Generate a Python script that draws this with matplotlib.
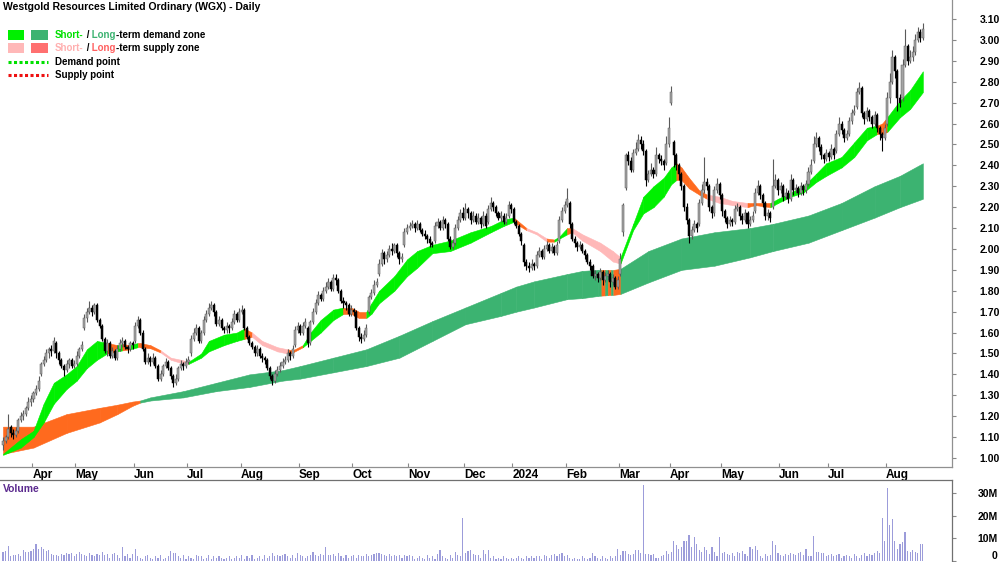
import numpy as np
import pandas as pd
import matplotlib
matplotlib.use("Agg")
import matplotlib.pyplot as plt
from matplotlib.patches import Rectangle

plt.rcParams['font.family'] = ['Liberation Sans', 'DejaVu Sans']

title = "Westgold Resources Limited Ordinary (WGX) - Daily"

# ASX trading days shown on the chart
first_day = "2023-03-16"
last_day = "2024-08-21"
holidays = ["2023-04-07", "2023-04-10", "2023-04-25", "2023-06-12", "2023-12-25",
            "2023-12-26", "2024-01-01", "2024-01-26", "2024-03-29", "2024-04-01",
            "2024-04-25", "2024-06-10"]

opens = [
    1.06, 1.08, 1.10, 1.15, 1.12, 1.11, 1.13, 1.18, 1.20, 1.21,
    1.24, 1.27, 1.28, 1.31, 1.33, 1.40, 1.45, 1.47, 1.50, 1.52,
    1.51, 1.55, 1.50, 1.47, 1.44, 1.42, 1.45, 1.47, 1.44, 1.45,
    1.49, 1.52, 1.62, 1.67, 1.70, 1.72, 1.70, 1.73, 1.66, 1.63,
    1.57, 1.51, 1.55, 1.49, 1.51, 1.48, 1.52, 1.55, 1.56, 1.53,
    1.52, 1.55, 1.56, 1.63, 1.66, 1.60, 1.52, 1.46, 1.48, 1.46,
    1.48, 1.44, 1.38, 1.40, 1.44, 1.46, 1.43, 1.39, 1.36, 1.38,
    1.43, 1.45, 1.44, 1.46, 1.50, 1.57, 1.60, 1.62, 1.56, 1.60,
    1.66, 1.69, 1.72, 1.73, 1.70, 1.64, 1.66, 1.62, 1.61, 1.63,
    1.62, 1.65, 1.69, 1.66, 1.70, 1.71, 1.62, 1.58, 1.55, 1.53,
    1.50, 1.52, 1.49, 1.48, 1.47, 1.43, 1.39, 1.37, 1.40, 1.42,
    1.44, 1.46, 1.47, 1.50, 1.49, 1.54, 1.61, 1.63, 1.60, 1.63,
    1.62, 1.55, 1.65, 1.70, 1.74, 1.78, 1.76, 1.80, 1.82, 1.84,
    1.81, 1.86, 1.85, 1.80, 1.75, 1.74, 1.73, 1.69, 1.71, 1.70,
    1.62, 1.58, 1.57, 1.59, 1.70, 1.77, 1.79, 1.83, 1.88, 1.93,
    1.98, 1.95, 1.97, 2.00, 1.99, 2.02, 1.98, 1.95, 2.02, 2.08,
    2.10, 2.11, 2.12, 2.10, 2.12, 2.09, 2.07, 2.06, 2.05, 2.03,
    2.04, 2.11, 2.13, 2.10, 2.14, 2.12, 2.05, 2.01, 2.03, 2.10,
    2.14, 2.17, 2.15, 2.19, 2.17, 2.14, 2.16, 2.13, 2.15, 2.12,
    2.16, 2.13, 2.19, 2.22, 2.20, 2.17, 2.15, 2.16, 2.13, 2.16,
    2.21, 2.19, 2.13, 2.11, 2.07, 2.02, 1.94, 1.92, 1.91, 1.93,
    1.92, 1.97, 1.99, 1.96, 2.00, 2.02, 1.99, 2.01, 1.98, 2.04,
    2.14, 2.18, 2.21, 2.22, 2.12, 2.05, 2.03, 2.01, 2.02, 1.99,
    1.97, 1.94, 1.92, 1.87, 1.88, 1.86, 1.89, 1.85, 1.87, 1.88,
    1.84, 1.86, 1.82, 1.88, 2.08, 2.29, 2.45, 2.42, 2.38, 2.46,
    2.48, 2.52, 2.50, 2.47, 2.33, 2.36, 2.38, 2.36, 2.45, 2.43,
    2.42, 2.41, 2.50, 2.70, 2.51, 2.45, 2.40, 2.36, 2.30, 2.20,
    2.14, 2.06, 2.09, 2.12, 2.12, 2.22, 2.28, 2.32, 2.30, 2.20,
    2.17, 2.28, 2.31, 2.26, 2.18, 2.15, 2.12, 2.14, 2.13, 2.19,
    2.20, 2.16, 2.14, 2.17, 2.12, 2.14, 2.18, 2.27, 2.30, 2.26,
    2.22, 2.16, 2.17, 2.20, 2.30, 2.33, 2.28, 2.30, 2.25, 2.27,
    2.24, 2.33, 2.28, 2.29, 2.27, 2.30, 2.28, 2.31, 2.37, 2.42,
    2.50, 2.53, 2.49, 2.45, 2.43, 2.46, 2.44, 2.48, 2.47, 2.55,
    2.60, 2.57, 2.53, 2.55, 2.61, 2.65, 2.68, 2.75, 2.77, 2.65,
    2.62, 2.66, 2.63, 2.60, 2.64, 2.58, 2.55, 2.53, 2.60, 2.72,
    2.80, 2.92, 2.85, 2.72, 2.72, 2.88, 2.97, 2.90, 2.92, 2.94,
    3.00, 3.04, 3.01]

highs = [
    1.10, 1.11, 1.21, 1.16, 1.14, 1.15, 1.19, 1.22, 1.23, 1.25,
    1.29, 1.30, 1.32, 1.35, 1.39, 1.46, 1.49, 1.52, 1.53, 1.54,
    1.58, 1.56, 1.51, 1.48, 1.45, 1.47, 1.48, 1.48, 1.47, 1.51,
    1.53, 1.56, 1.69, 1.72, 1.75, 1.73, 1.74, 1.74, 1.67, 1.64,
    1.58, 1.57, 1.56, 1.53, 1.52, 1.54, 1.57, 1.58, 1.57, 1.54,
    1.56, 1.56, 1.65, 1.68, 1.67, 1.61, 1.53, 1.50, 1.49, 1.50,
    1.49, 1.45, 1.42, 1.45, 1.48, 1.47, 1.44, 1.40, 1.40, 1.44,
    1.47, 1.46, 1.48, 1.49, 1.59, 1.62, 1.64, 1.63, 1.61, 1.68,
    1.71, 1.74, 1.75, 1.74, 1.71, 1.68, 1.67, 1.63, 1.65, 1.64,
    1.67, 1.71, 1.70, 1.72, 1.73, 1.72, 1.63, 1.59, 1.56, 1.54,
    1.54, 1.53, 1.50, 1.49, 1.48, 1.44, 1.40, 1.42, 1.44, 1.46,
    1.48, 1.49, 1.52, 1.51, 1.54, 1.63, 1.65, 1.64, 1.65, 1.67,
    1.63, 1.66, 1.72, 1.76, 1.80, 1.79, 1.82, 1.84, 1.86, 1.85,
    1.88, 1.88, 1.86, 1.81, 1.77, 1.75, 1.74, 1.73, 1.72, 1.71,
    1.63, 1.60, 1.61, 1.64, 1.78, 1.81, 1.85, 1.86, 1.95, 2.00,
    1.99, 1.99, 2.02, 2.03, 2.03, 2.03, 1.99, 1.98, 2.10, 2.12,
    2.13, 2.14, 2.13, 2.14, 2.13, 2.10, 2.09, 2.07, 2.06, 2.04,
    2.13, 2.15, 2.14, 2.16, 2.15, 2.13, 2.06, 2.05, 2.12, 2.16,
    2.19, 2.20, 2.22, 2.20, 2.18, 2.18, 2.17, 2.17, 2.16, 2.18,
    2.17, 2.21, 2.25, 2.23, 2.21, 2.18, 2.18, 2.17, 2.17, 2.23,
    2.22, 2.20, 2.14, 2.12, 2.08, 2.03, 1.95, 1.94, 1.95, 1.94,
    1.99, 2.01, 2.00, 2.02, 2.04, 2.03, 2.03, 2.02, 2.04, 2.16,
    2.20, 2.23, 2.29, 2.23, 2.13, 2.06, 2.04, 2.04, 2.03, 2.00,
    1.98, 1.95, 1.93, 1.90, 1.89, 1.91, 1.90, 1.89, 1.90, 1.89,
    1.88, 1.87, 1.87, 1.98, 2.22, 2.46, 2.47, 2.44, 2.48, 2.51,
    2.55, 2.54, 2.52, 2.48, 2.38, 2.41, 2.39, 2.49, 2.46, 2.45,
    2.43, 2.54, 2.63, 2.78, 2.52, 2.46, 2.41, 2.37, 2.31, 2.22,
    2.15, 2.11, 2.14, 2.13, 2.24, 2.31, 2.44, 2.34, 2.31, 2.21,
    2.30, 2.34, 2.32, 2.27, 2.19, 2.16, 2.16, 2.15, 2.21, 2.22,
    2.21, 2.17, 2.19, 2.18, 2.16, 2.18, 2.29, 2.33, 2.31, 2.27,
    2.23, 2.19, 2.18, 2.43, 2.36, 2.34, 2.32, 2.31, 2.29, 2.28,
    2.36, 2.34, 2.31, 2.30, 2.32, 2.31, 2.33, 2.39, 2.43, 2.54,
    2.56, 2.54, 2.50, 2.46, 2.48, 2.47, 2.50, 2.49, 2.57, 2.63,
    2.61, 2.58, 2.57, 2.63, 2.67, 2.69, 2.77, 2.80, 2.78, 2.66,
    2.68, 2.67, 2.64, 2.66, 2.65, 2.59, 2.56, 2.60, 2.75, 2.84,
    2.95, 2.93, 2.86, 2.74, 2.91, 3.05, 2.98, 2.95, 2.97, 3.03,
    3.06, 3.05, 3.08]

lows = [
    1.04, 1.07, 1.09, 1.10, 1.09, 1.10, 1.12, 1.17, 1.18, 1.20,
    1.23, 1.25, 1.27, 1.30, 1.32, 1.39, 1.44, 1.46, 1.48, 1.49,
    1.50, 1.48, 1.45, 1.43, 1.39, 1.41, 1.43, 1.43, 1.43, 1.44,
    1.48, 1.51, 1.61, 1.65, 1.69, 1.68, 1.69, 1.65, 1.62, 1.56,
    1.50, 1.49, 1.48, 1.48, 1.47, 1.47, 1.51, 1.53, 1.52, 1.50,
    1.51, 1.52, 1.55, 1.62, 1.59, 1.51, 1.45, 1.45, 1.44, 1.45,
    1.43, 1.37, 1.37, 1.39, 1.43, 1.42, 1.38, 1.34, 1.35, 1.37,
    1.42, 1.42, 1.43, 1.45, 1.49, 1.56, 1.59, 1.55, 1.55, 1.59,
    1.65, 1.68, 1.71, 1.68, 1.63, 1.63, 1.61, 1.60, 1.60, 1.60,
    1.61, 1.64, 1.65, 1.65, 1.69, 1.61, 1.57, 1.54, 1.52, 1.49,
    1.49, 1.48, 1.46, 1.45, 1.42, 1.38, 1.35, 1.36, 1.39, 1.41,
    1.43, 1.45, 1.46, 1.47, 1.48, 1.53, 1.60, 1.59, 1.59, 1.62,
    1.53, 1.54, 1.64, 1.69, 1.73, 1.75, 1.75, 1.79, 1.81, 1.80,
    1.80, 1.83, 1.79, 1.74, 1.72, 1.71, 1.68, 1.68, 1.68, 1.61,
    1.56, 1.55, 1.56, 1.58, 1.69, 1.76, 1.78, 1.82, 1.87, 1.92,
    1.93, 1.94, 1.96, 1.97, 1.98, 1.96, 1.93, 1.94, 2.01, 2.07,
    2.09, 2.10, 2.08, 2.09, 2.08, 2.06, 2.05, 2.03, 2.01, 2.01,
    2.03, 2.10, 2.09, 2.09, 2.10, 2.04, 2.00, 2.00, 2.02, 2.09,
    2.13, 2.14, 2.14, 2.15, 2.12, 2.13, 2.12, 2.12, 2.10, 2.11,
    2.10, 2.12, 2.18, 2.18, 2.16, 2.14, 2.13, 2.12, 2.12, 2.15,
    2.17, 2.12, 2.10, 2.06, 2.02, 1.92, 1.90, 1.89, 1.90, 1.90,
    1.91, 1.96, 1.95, 1.95, 1.99, 1.98, 1.98, 1.97, 1.97, 2.03,
    2.13, 2.17, 2.20, 2.10, 2.04, 2.01, 1.99, 2.00, 1.98, 1.95,
    1.93, 1.90, 1.86, 1.85, 1.84, 1.85, 1.83, 1.84, 1.85, 1.82,
    1.83, 1.81, 1.81, 1.87, 2.06, 2.28, 2.40, 2.37, 2.37, 2.45,
    2.47, 2.48, 2.45, 2.30, 2.32, 2.35, 2.34, 2.35, 2.41, 2.40,
    2.38, 2.40, 2.49, 2.69, 2.39, 2.38, 2.33, 2.28, 2.18, 2.12,
    2.03, 2.05, 2.08, 2.08, 2.11, 2.21, 2.27, 2.28, 2.18, 2.15,
    2.16, 2.27, 2.24, 2.16, 2.13, 2.10, 2.11, 2.11, 2.12, 2.18,
    2.14, 2.12, 2.13, 2.10, 2.11, 2.13, 2.17, 2.26, 2.24, 2.20,
    2.14, 2.14, 2.13, 2.19, 2.29, 2.26, 2.27, 2.23, 2.24, 2.22,
    2.23, 2.26, 2.27, 2.25, 2.26, 2.26, 2.27, 2.30, 2.36, 2.41,
    2.49, 2.47, 2.43, 2.41, 2.42, 2.42, 2.43, 2.43, 2.46, 2.54,
    2.55, 2.51, 2.52, 2.54, 2.60, 2.64, 2.67, 2.74, 2.63, 2.60,
    2.61, 2.61, 2.58, 2.59, 2.56, 2.52, 2.47, 2.52, 2.59, 2.70,
    2.79, 2.82, 2.66, 2.68, 2.71, 2.87, 2.88, 2.89, 2.90, 2.93,
    2.99, 2.99, 3.00]

closes = [
    1.08, 1.10, 1.14, 1.12, 1.11, 1.13, 1.18, 1.20, 1.21, 1.24,
    1.27, 1.28, 1.31, 1.33, 1.37, 1.45, 1.47, 1.50, 1.52, 1.51,
    1.56, 1.50, 1.47, 1.44, 1.42, 1.45, 1.47, 1.44, 1.45, 1.49,
    1.52, 1.54, 1.67, 1.70, 1.72, 1.70, 1.73, 1.66, 1.63, 1.57,
    1.51, 1.55, 1.49, 1.51, 1.48, 1.52, 1.55, 1.56, 1.53, 1.52,
    1.55, 1.54, 1.63, 1.66, 1.60, 1.52, 1.46, 1.48, 1.46, 1.48,
    1.44, 1.38, 1.40, 1.44, 1.46, 1.43, 1.39, 1.36, 1.38, 1.43,
    1.45, 1.44, 1.46, 1.47, 1.57, 1.60, 1.62, 1.56, 1.60, 1.66,
    1.69, 1.72, 1.73, 1.70, 1.64, 1.66, 1.62, 1.61, 1.63, 1.62,
    1.65, 1.69, 1.66, 1.70, 1.71, 1.62, 1.58, 1.55, 1.53, 1.50,
    1.52, 1.49, 1.48, 1.47, 1.43, 1.39, 1.37, 1.40, 1.42, 1.44,
    1.46, 1.47, 1.50, 1.49, 1.52, 1.61, 1.63, 1.60, 1.63, 1.65,
    1.55, 1.65, 1.70, 1.74, 1.78, 1.76, 1.80, 1.82, 1.84, 1.81,
    1.86, 1.85, 1.80, 1.75, 1.74, 1.73, 1.69, 1.71, 1.70, 1.62,
    1.58, 1.57, 1.59, 1.62, 1.77, 1.79, 1.83, 1.84, 1.93, 1.98,
    1.95, 1.97, 2.00, 1.99, 2.02, 1.98, 1.95, 1.96, 2.08, 2.10,
    2.11, 2.12, 2.10, 2.12, 2.09, 2.07, 2.06, 2.05, 2.03, 2.02,
    2.11, 2.13, 2.10, 2.14, 2.12, 2.05, 2.01, 2.03, 2.10, 2.14,
    2.17, 2.15, 2.19, 2.17, 2.14, 2.16, 2.13, 2.15, 2.12, 2.16,
    2.11, 2.19, 2.22, 2.20, 2.17, 2.15, 2.16, 2.13, 2.15, 2.21,
    2.19, 2.13, 2.11, 2.07, 2.04, 1.94, 1.92, 1.91, 1.93, 1.92,
    1.97, 1.99, 1.96, 2.00, 2.02, 1.99, 2.01, 1.98, 2.02, 2.14,
    2.18, 2.21, 2.24, 2.12, 2.05, 2.03, 2.01, 2.02, 1.99, 1.97,
    1.94, 1.92, 1.87, 1.88, 1.86, 1.89, 1.85, 1.87, 1.88, 1.84,
    1.86, 1.82, 1.85, 1.95, 2.21, 2.45, 2.42, 2.38, 2.46, 2.48,
    2.52, 2.50, 2.47, 2.33, 2.36, 2.38, 2.36, 2.45, 2.43, 2.42,
    2.40, 2.50, 2.58, 2.75, 2.45, 2.40, 2.36, 2.30, 2.20, 2.14,
    2.06, 2.09, 2.12, 2.10, 2.22, 2.28, 2.32, 2.30, 2.20, 2.17,
    2.28, 2.31, 2.26, 2.18, 2.15, 2.12, 2.14, 2.13, 2.19, 2.20,
    2.16, 2.14, 2.17, 2.12, 2.14, 2.16, 2.27, 2.30, 2.26, 2.22,
    2.16, 2.17, 2.15, 2.30, 2.33, 2.28, 2.30, 2.25, 2.27, 2.24,
    2.33, 2.28, 2.29, 2.27, 2.30, 2.28, 2.31, 2.37, 2.40, 2.50,
    2.53, 2.49, 2.45, 2.43, 2.46, 2.44, 2.48, 2.45, 2.55, 2.60,
    2.57, 2.53, 2.55, 2.61, 2.65, 2.66, 2.75, 2.77, 2.65, 2.62,
    2.66, 2.63, 2.60, 2.64, 2.58, 2.55, 2.53, 2.58, 2.72, 2.80,
    2.92, 2.85, 2.72, 2.70, 2.88, 2.97, 2.90, 2.92, 2.94, 3.00,
    3.04, 3.01, 3.05]

# volume in millions of shares
volumes = [
    4.0, 4.5, 6.5, 2.0, 2.5, 2.5, 3.0, 2.0, 5.0, 4.0, 4.0, 4.5, 5.5, 7.5, 5.5, 6.0, 5.5, 4.5, 5.0, 3.0,
    2.5, 2.5, 2.0, 3.0, 2.5, 3.5, 3.0, 3.5, 2.0, 3.0, 4.0, 3.0, 2.5, 2.0, 3.5, 2.5, 2.0, 3.0, 2.5, 4.0,
    2.5, 3.0, 1.5, 3.0, 3.5, 2.5, 1.5, 6.0, 2.0, 3.0, 1.5, 3.0, 5.5, 2.0, 1.5, 1.0, 2.0, 2.5, 1.5, 1.0,
    2.0, 1.5, 2.5, 1.0, 1.5, 2.0, 4.5, 3.5, 3.5, 2.0, 1.5, 2.5, 1.0, 2.0, 1.5, 1.0, 2.5, 2.0, 2.0, 1.0,
    1.5, 2.5, 1.0, 2.0, 1.5, 2.0, 1.5, 1.0, 1.5, 2.0, 1.0, 1.5, 2.0, 1.5, 2.5, 1.0, 2.0, 1.5, 2.5, 1.0,
    1.5, 2.0, 1.0, 2.5, 1.5, 2.0, 3.5, 2.0, 2.5, 2.0, 2.5, 3.0, 2.0, 1.5, 2.5, 1.5, 3.5, 2.5, 2.0, 1.5,
    2.0, 2.5, 4.0, 2.5, 2.0, 3.0, 2.5, 6.0, 2.5, 2.5, 3.0, 2.0, 3.5, 2.0, 1.5, 2.5, 1.5, 2.0, 2.5, 1.5,
    2.5, 2.0, 2.0, 3.0, 2.0, 2.5, 3.0, 3.5, 3.5, 3.0, 2.5, 2.0, 3.0, 2.0, 2.5, 2.0, 2.5, 1.5, 2.5, 2.0,
    2.5, 2.0, 1.0, 1.5, 2.0, 1.5, 1.0, 2.5, 1.5, 2.0, 1.0, 3.0, 5.0, 2.0, 1.5, 1.0, 2.5, 1.5, 4.0, 2.5,
    2.0, 19.0, 3.5, 4.5, 5.0, 3.0, 2.5, 2.5, 1.5, 5.0, 3.0, 5.0, 1.5, 2.0, 1.0, 1.5, 1.0, 2.0, 1.5, 1.0,
    1.5, 1.0, 1.5, 2.0, 1.5, 1.0, 2.0, 1.5, 2.0, 1.5, 2.0, 2.0, 1.0, 2.5, 2.0, 1.5, 2.5, 3.0, 2.0, 3.0,
    3.5, 2.0, 2.5, 1.5, 1.0, 1.5, 1.0, 1.0, 2.0, 1.5, 1.0, 1.5, 3.5, 2.0, 1.5, 1.0, 2.0, 1.5, 1.0, 2.0,
    1.5, 2.0, 5.5, 2.5, 4.5, 4.5, 3.0, 2.5, 3.0, 5.0, 5.0, 3.5, 33.5, 3.0, 3.0, 2.5, 3.0, 1.5, 1.5, 2.0,
    2.5, 4.5, 3.0, 4.0, 9.0, 7.0, 5.5, 6.0, 9.0, 9.0, 11.5, 6.0, 10.5, 7.5, 5.0, 4.0, 6.0, 5.0, 3.0, 6.0,
    4.0, 2.0, 10.5, 3.5, 4.0, 3.0, 2.5, 3.5, 2.0, 4.0, 3.5, 4.5, 3.0, 2.0, 6.0, 5.5, 6.5, 5.0, 2.0, 1.5,
    3.0, 2.0, 2.5, 9.0, 7.0, 3.5, 2.5, 2.0, 3.0, 2.5, 3.5, 3.0, 2.5, 3.5, 4.0, 2.5, 5.5, 2.0, 2.0, 11.0,
    4.0, 4.0, 3.5, 3.5, 2.0, 2.5, 3.0, 2.0, 2.5, 3.0, 1.5, 2.0, 2.5, 2.0, 1.5, 3.0, 2.0, 1.5, 2.5, 3.5,
    2.0, 3.0, 2.5, 3.5, 4.5, 3.5, 19.0, 9.0, 32.0, 16.0, 18.5, 9.0, 5.5, 7.5, 8.5, 13.0, 4.5, 4.0, 5.0,
    4.0, 3.5, 7.5, 7.5]

# long-term zone edges, read at these bar numbers
# (state of each stretch: o = supply, d = demand)
lt_bar = [0, 12, 25, 38, 45, 51, 54, 58, 71, 84, 97, 110, 117, 130, 143, 156, 169, 182, 196,
          202, 209, 222, 228, 234, 235.5, 237, 238, 239.2, 240.2, 243, 254, 267, 280, 294,
          303, 317, 330, 343, 353, 362]
lt_top = [1.15, 1.15, 1.21, 1.24, 1.255, 1.27, 1.275, 1.29, 1.32, 1.36, 1.40, 1.42, 1.44,
          1.48, 1.52, 1.585, 1.655, 1.72, 1.79, 1.82, 1.845, 1.88, 1.895, 1.90, 1.90, 1.90,
          1.90, 1.90, 1.90, 1.905, 1.99, 2.05, 2.08, 2.10, 2.12, 2.16, 2.22, 2.30, 2.35, 2.41]
lt_bot = [1.02, 1.05, 1.12, 1.17, 1.21, 1.25, 1.265, 1.275, 1.29, 1.32, 1.34, 1.37, 1.38,
          1.41, 1.44, 1.48, 1.56, 1.64, 1.68, 1.70, 1.72, 1.76, 1.765, 1.775, 1.777, 1.778,
          1.779, 1.78, 1.78, 1.785, 1.84, 1.90, 1.92, 1.96, 1.99, 2.03, 2.09, 2.15, 2.20, 2.24]
lt_state = ["o", "o", "o", "o", "o", "o",
            "d", "d", "d", "d", "d", "d", "d", "d", "d", "d", "d", "d", "d", "d", "d", "d", "d", "d",
            "o", "d", "o", "d", "o",
            "d", "d", "d", "d", "d", "d", "d", "d", "d", "d", "d"]

# short-term zone edges (g = demand, p = supply, o = turning)
st_bar = [0, 7, 12, 16, 20, 25, 29, 33, 37, 41, 45, 47, 50, 53, 54, 58, 62, 66, 70, 73, 78,
          81, 87, 92, 95, 98, 102, 108, 112, 114, 118, 121, 125, 130, 134, 137, 140, 143, 145,
          148, 154, 159, 163, 169, 176, 184, 192, 197, 201, 202, 206, 210, 214, 217, 219, 222,
          224, 228, 235, 240, 243, 248, 252, 256, 260, 263, 265, 267, 270, 274, 277, 282, 287,
          293, 296, 302, 305, 310, 315, 320, 324, 330, 335, 340, 344, 346, 348, 353, 357, 362]
st_top = [1.02, 1.09, 1.13, 1.26, 1.36, 1.40, 1.44, 1.52, 1.56, 1.55, 1.54, 1.545, 1.54, 1.55,
          1.55, 1.54, 1.515, 1.48, 1.47, 1.46, 1.50, 1.56, 1.59, 1.60, 1.62, 1.60, 1.56, 1.53,
          1.52, 1.515, 1.54, 1.60, 1.66, 1.71, 1.72, 1.72, 1.70, 1.70, 1.74, 1.80, 1.87, 1.95,
          1.99, 2.02, 2.04, 2.08, 2.11, 2.14, 2.15, 2.14, 2.10, 2.08, 2.05, 2.045, 2.06, 2.10,
          2.10, 2.07, 2.03, 1.99, 1.96, 2.12, 2.25, 2.30, 2.34, 2.39, 2.41, 2.39, 2.34, 2.28,
          2.26, 2.25, 2.23, 2.22, 2.22, 2.22, 2.24, 2.27, 2.30, 2.36, 2.41, 2.44, 2.51, 2.58,
          2.59, 2.60, 2.63, 2.71, 2.76, 2.85]
st_bot = [1.015, 1.05, 1.10, 1.17, 1.26, 1.33, 1.37, 1.43, 1.47, 1.50, 1.51, 1.515, 1.52,
          1.53, 1.53, 1.525, 1.505, 1.47, 1.455, 1.45, 1.48, 1.51, 1.54, 1.56, 1.57, 1.58,
          1.54, 1.51, 1.50, 1.505, 1.53, 1.56, 1.60, 1.66, 1.69, 1.69, 1.67, 1.67, 1.69, 1.74,
          1.80, 1.87, 1.91, 1.98, 1.99, 2.03, 2.08, 2.11, 2.13, 2.12, 2.09, 2.07, 2.035, 2.035,
          2.05, 2.07, 2.08, 2.04, 1.99, 1.94, 1.93, 2.09, 2.17, 2.20, 2.25, 2.31, 2.33, 2.33,
          2.29, 2.26, 2.24, 2.22, 2.21, 2.20, 2.21, 2.20, 2.22, 2.25, 2.27, 2.32, 2.35, 2.39,
          2.44, 2.52, 2.55, 2.55, 2.56, 2.63, 2.67, 2.75]
st_state = ["g", "g", "g", "g", "g", "g", "g", "g", "g",      # 0-37
            "o", "g", "o", "g", "o", "o", "o",                 # 41-58
            "p", "p", "p",                                     # 62-70
            "g", "g", "g", "g", "g",                           # 73-92
            "o", "p", "p", "p", "o", "o",                      # 95-114
            "g", "g", "g", "g",                                # 118-130
            "o", "o", "o",                                     # 134-140
            "g", "g", "g", "g", "g", "g", "g", "g", "g", "g", "g",  # 143-197
            "o", "o", "p", "p", "o", "g", "g", "o",            # 201-222
            "p", "p", "p", "p",                                # 224-240
            "g", "g", "g", "g", "g", "g",                      # 243-263
            "o", "o", "o", "o", "p", "p", "p", "o", "o",       # 265-296
            "g", "g", "g", "g", "g", "g", "g", "g", "g",       # 302-340
            "o", "o", "g", "g", "g", "g"]                      # 344-362

zone_colors = {"g": "#00F000", "d": "#3CB371", "p": "#FFB8B8", "o": "#FF6A1E"}


def main():
    n = len(closes)
    x = np.arange(n)
    o = np.array(opens)
    h = np.array(highs)
    l = np.array(lows)
    c = np.array(closes)

    dates = pd.bdate_range(first_day, last_day, freq="C", holidays=holidays)[:n]
    months = dates.to_period("M")
    starts = [i for i in range(1, len(dates)) if months[i] != months[i - 1]]
    labels = ["2024" if dates[i].month == 1 else dates[i].strftime("%b") for i in starts]

    fig = plt.figure(figsize=(10, 5.62), dpi=100)
    step = 2.541
    xlim = (-3 / step, (952 - 3) / step)

    ax = fig.add_axes([0, 1 - 467 / 562, 0.952, 467 / 562])
    axv = fig.add_axes([0, 0, 0.952, 82 / 562])

    # zones
    for bars, top, bot, state in [(lt_bar, lt_top, lt_bot, lt_state),
                                  (st_bar, st_top, st_bot, st_state)]:
        for k in range(len(bars) - 1):
            col = zone_colors[state[k]]
            ax.fill_between(bars[k:k + 2], bot[k:k + 2], top[k:k + 2],
                            color=col, lw=0.4, edgecolor=col, zorder=1)

    # candles
    up = c >= o
    ax.vlines(x[up], l[up], h[up], color="#5a5a5a", lw=0.8, zorder=3)
    ax.vlines(x[~up], l[~up], h[~up], color="black", lw=0.8, zorder=3)
    bottom = np.minimum(o, c)
    height = np.maximum(np.abs(c - o), 0.005)
    ax.bar(x[up], height[up], bottom=bottom[up], width=0.8, color="#A4A4A4",
           edgecolor="#5a5a5a", lw=0.35, zorder=4)
    ax.bar(x[~up], height[~up], bottom=bottom[~up], width=0.8, color="black",
           edgecolor="black", lw=0.35, zorder=4)

    ax.set_xlim(*xlim)
    ax.set_ylim(0.957, 3.191)
    ax.yaxis.tick_right()
    yt = np.round(np.arange(1.0, 3.101, 0.1), 2)
    ax.set_yticks(yt)
    ax.set_yticklabels([f"{v:.2f}" for v in yt], fontweight="bold", ha="right")
    ax.tick_params(axis="y", direction="out", length=3, color="#888888",
                   pad=31.5, labelsize=7.5)
    ax.set_xticks([s - 0.5 for s in starts])
    ax.set_xticklabels(labels, fontweight="bold", ha="left")
    ax.tick_params(axis="x", direction="in", length=3, color="#888888",
                   pad=1.5, labelsize=8.5)
    for side in ["left", "top"]:
        ax.spines[side].set_visible(False)
    for side in ["bottom", "right"]:
        ax.spines[side].set_color("#909090")
        ax.spines[side].set_linewidth(0.9)

    # volume
    axv.bar(x, volumes, width=0.45, color="#9C9CDA", lw=0)
    axv.set_xlim(*xlim)
    axv.set_ylim(-0.44, 35.7)
    axv.yaxis.tick_right()
    axv.set_yticks([0, 10, 20, 30])
    axv.set_yticklabels(["0", "10M", "20M", "30M"], fontweight="bold", ha="right")
    axv.tick_params(axis="y", direction="out", length=3, color="#888888",
                    pad=30, labelsize=7.5)
    axv.get_yticklabels()[0].set_va("bottom")
    axv.set_xticks([])
    for side in ["left", "bottom"]:
        axv.spines[side].set_visible(False)
    for side in ["top", "right"]:
        axv.spines[side].set_color("#707070")
        axv.spines[side].set_linewidth(0.9)

    # overlay in pixel units for title and legend
    ov = fig.add_axes([0, 0, 1, 1])
    ov.set_xlim(0, 1000)
    ov.set_ylim(562, 0)
    ov.axis("off")

    ov.text(3, 7.5, title, fontsize=7.5, fontweight="bold", va="center", ha="left")
    ov.text(3, 489, "Volume", fontsize=7.5, fontweight="bold", color="#5B2A8E",
            va="center", ha="left")

    ov.add_patch(Rectangle((8, 30), 16, 10, color=zone_colors["g"], lw=0))
    ov.add_patch(Rectangle((31, 30), 17, 10, color="#3CB371", lw=0))
    ov.add_patch(Rectangle((8, 43), 16, 10, color="#FFB8B8", lw=0))
    ov.add_patch(Rectangle((31, 43), 17, 10, color="#FF7070", lw=0))
    ov.plot([8, 48], [62, 62], color="#00E000", lw=2.2, linestyle=(0, (1, 0.8)))
    ov.plot([8, 48], [75, 75], color="#EE1111", lw=2.2, linestyle=(0, (1, 0.8)))

    renderer = fig.canvas.get_renderer()

    def rich(xp, yp, parts):
        for s, col in parts:
            t = ov.text(xp, yp, s, color=col, fontsize=7, fontweight="bold",
                        va="center", ha="left")
            xp += t.get_window_extent(renderer=renderer).width

    rich(55, 35, [("Short-", "#00E000"), (" /", "black"), (" Long", "#3CB371"),
                  ("-term demand zone", "black")])
    rich(55, 48, [("Short-", "#FFB0B0"), (" /", "black"), (" Long", "#FF6060"),
                  ("-term supply zone", "black")])
    ov.text(55, 62, "Demand point", fontsize=7, fontweight="bold", va="center", ha="left")
    ov.text(55, 75, "Supply point", fontsize=7, fontweight="bold", va="center", ha="left")

    fig.savefig("out.png", dpi=100)
    plt.close(fig)


if __name__ == "__main__":
    main()
